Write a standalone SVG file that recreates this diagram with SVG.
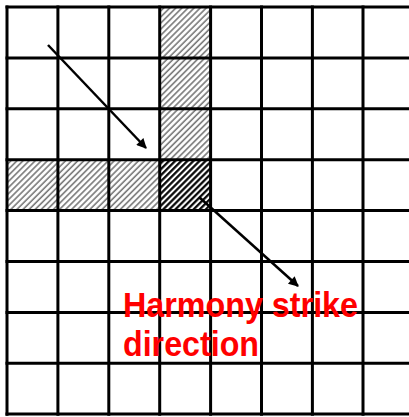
<svg xmlns="http://www.w3.org/2000/svg" width="409" height="417" viewBox="0 0 409 417">
<style>
.grid line{stroke:#000;stroke-width:3}
.arrow{stroke:#000;stroke-width:2.5;fill:none}
.label{font-family:"Liberation Sans",Arial,sans-serif;font-weight:bold;font-size:34.5px;fill:#ff0000}
</style>
<defs>
<pattern id="light" patternUnits="userSpaceOnUse" width="4.3" height="4.3" patternTransform="rotate(45)">
<rect width="4.3" height="4.3" fill="#fff"/>
<line x1="1" y1="0" x2="1" y2="4.3" stroke="#777" stroke-width="1.6"/>
</pattern>
<pattern id="dark" patternUnits="userSpaceOnUse" width="4.3" height="4.3" patternTransform="rotate(45)">
<rect width="4.3" height="4.3" fill="#fff"/>
<line x1="1.2" y1="0" x2="1.2" y2="4.3" stroke="#000" stroke-width="2.2"/>
</pattern>
<marker id="ah" viewBox="0 0 10 10" refX="9" refY="5" markerWidth="5" markerHeight="4" orient="auto" markerUnits="strokeWidth">
<path d="M0,0 L10,5 L0,10 z" fill="#000"/>
</marker>
</defs>
<rect width="409" height="417" fill="#fff"/>
<g id="hatched-cells">
<rect id="cell-c3r0" x="159.7" y="7" width="50.9" height="50.9" fill="url(#light)"/>
<rect id="cell-c3r1" x="159.7" y="57.9" width="50.9" height="50.9" fill="url(#light)"/>
<rect id="cell-c3r2" x="159.7" y="108.8" width="50.9" height="50.9" fill="url(#light)"/>
<rect id="cell-c0r3" x="7" y="159.7" width="50.9" height="50.9" fill="url(#light)"/>
<rect id="cell-c1r3" x="57.9" y="159.7" width="50.9" height="50.9" fill="url(#light)"/>
<rect id="cell-c2r3" x="108.8" y="159.7" width="50.9" height="50.9" fill="url(#light)"/>
<rect id="cell-c3r3" x="159.7" y="159.7" width="50.9" height="50.9" fill="url(#dark)"/>
</g>
<g id="grid" class="grid">
<line x1="7" y1="5.5" x2="7" y2="415.7"/>
<line x1="57.9" y1="5.5" x2="57.9" y2="415.7"/>
<line x1="108.8" y1="5.5" x2="108.8" y2="415.7"/>
<line x1="159.7" y1="5.5" x2="159.7" y2="415.7"/>
<line x1="210.6" y1="5.5" x2="210.6" y2="415.7"/>
<line x1="261.5" y1="5.5" x2="261.5" y2="415.7"/>
<line x1="312.4" y1="5.5" x2="312.4" y2="415.7"/>
<line x1="363.0" y1="5.5" x2="363.0" y2="415.7"/>
<line x1="5.5" y1="7" x2="409" y2="7"/>
<line x1="5.5" y1="57.9" x2="409" y2="57.9"/>
<line x1="5.5" y1="108.8" x2="409" y2="108.8"/>
<line x1="5.5" y1="159.7" x2="409" y2="159.7"/>
<line x1="5.5" y1="210.6" x2="409" y2="210.6"/>
<line x1="5.5" y1="261.5" x2="409" y2="261.5"/>
<line x1="5.5" y1="312.4" x2="409" y2="312.4"/>
<line x1="5.5" y1="363.3" x2="409" y2="363.3"/>
<line x1="5.5" y1="414" x2="409" y2="414"/>
</g>
<g id="connectors">
<line class="arrow" x1="48" y1="45" x2="146" y2="148" marker-end="url(#ah)"/>
<line class="arrow" x1="199" y1="197" x2="298" y2="286" marker-end="url(#ah)"/>
</g>
<g id="label">
<text class="label" x="123" y="317" textLength="235" lengthAdjust="spacingAndGlyphs">Harmony strike</text>
<text class="label" x="123" y="356" textLength="136" lengthAdjust="spacingAndGlyphs">direction</text>
</g>
</svg>
